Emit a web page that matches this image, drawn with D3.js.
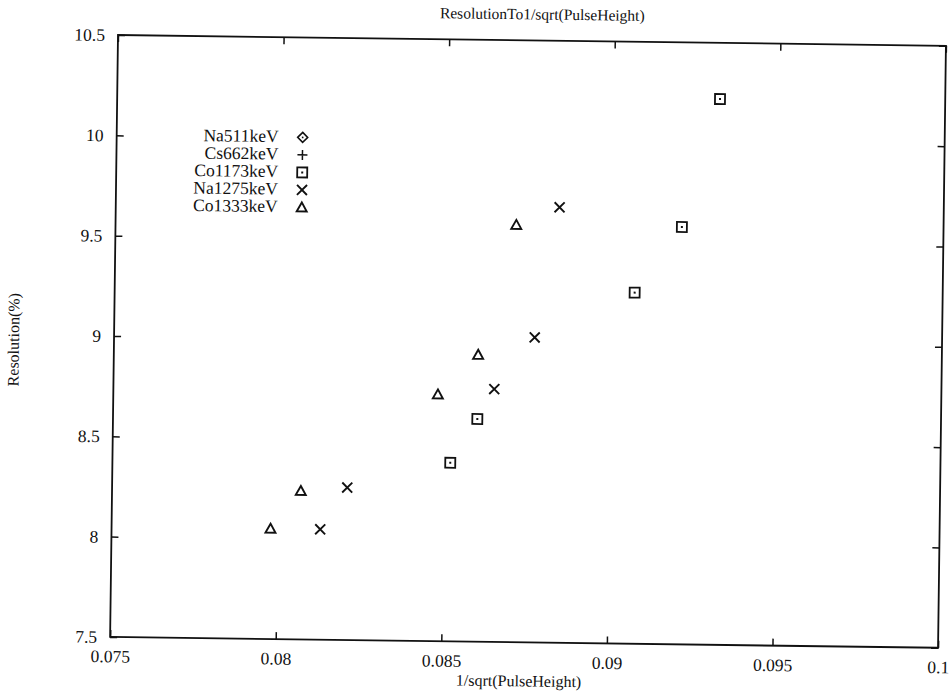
<!DOCTYPE html>
<html>
<head>
<meta charset="utf-8">
<script src="https://cdn.jsdelivr.net/npm/d3@7"></script>
<style>
  html, body { margin: 0; padding: 0; background: #fff; }
</style>
</head>
<body>
<svg id="chart" width="951" height="693"></svg>
<script>
// ---- data ----
const seriesNames = ["Na511keV", "Cs662keV", "Co1173keV", "Na1275keV", "Co1333keV"];
const na511X = [];
const na511Y = [];
const cs662X = [];
const cs662Y = [];
const co1173X = [0.0932, 0.0921, 0.0907, 0.0860, 0.0852];
const co1173Y = [10.22, 9.58, 9.25, 8.61, 8.39];
const na1275X = [0.0884, 0.0877, 0.0865, 0.0821, 0.0813];
const na1275Y = [9.67, 9.02, 8.76, 8.26, 8.05];
const co1333X = [0.0871, 0.0860, 0.0848, 0.0807, 0.0798];
const co1333Y = [9.58, 8.93, 8.73, 8.24, 8.05];
const xTicks = [0.075, 0.08, 0.085, 0.09, 0.095, 0.1];
const xTickLabels = ["0.075", "0.08", "0.085", "0.09", "0.095", "0.1"];
const yTicks = [7.5, 8, 8.5, 9, 9.5, 10, 10.5];
const yTickLabels = ["7.5", "8", "8.5", "9", "9.5", "10", "10.5"];
const titleText = "ResolutionTo1/sqrt(PulseHeight)";
const xLabel = "1/sqrt(PulseHeight)";
const yLabel = "Resolution(%)";

const seriesX = [na511X, cs662X, co1173X, na1275X, co1333X];
const seriesY = [na511Y, cs662Y, co1173Y, na1275Y, co1333Y];
const symbols = ["diamond", "plus", "square", "cross", "triangle"];

// ---- layout ----
const W = 828, H = 602;
const FONT = "'Liberation Serif', 'Times New Roman', Times, serif";
const svg = d3.select("#chart");
const g = svg.append("g").attr("transform", "translate(118,35) rotate(0.75)");

const x = d3.scaleLinear().domain([0.075, 0.1]).range([0, W]);
const y = d3.scaleLinear().domain([7.5, 10.5]).range([H, 0]);

const fs = 17.5;
const ink = "#111";

// frame
g.append("rect").attr("x", 0).attr("y", 0).attr("width", W).attr("height", H)
  .attr("fill", "none").attr("stroke", ink).attr("stroke-width", 1.8);

function styleAxis(sel) {
  sel.attr("font-family", null).attr("font-size", null);
  sel.select(".domain").remove();
  sel.selectAll("line").attr("stroke", ink).attr("stroke-width", 1.5);
  sel.selectAll("text").style("font-family", FONT).style("font-size", fs + "px").attr("fill", ink);
}

g.append("g").attr("transform", `translate(0,${H})`)
  .call(d3.axisBottom(x).tickValues(xTicks).tickSize(-7).tickPadding(13)
    .tickFormat((d, i) => xTickLabels[i]))
  .call(styleAxis);
g.append("g")
  .call(d3.axisLeft(y).tickValues(yTicks).tickSize(-7).tickPadding(13)
    .tickFormat((d, i) => yTickLabels[i]))
  .call(styleAxis);
g.append("g")
  .call(d3.axisTop(x).tickValues(xTicks).tickSize(-7).tickFormat(""))
  .call(styleAxis);
g.append("g").attr("transform", `translate(${W},0)`)
  .call(d3.axisRight(y).tickValues(yTicks).tickSize(-7).tickFormat(""))
  .call(styleAxis);

function txt(sel) { return sel.style("font-family", FONT).attr("fill", ink); }

// titles
g.append("text").attr("x", W / 2 + 10).attr("y", -21).attr("text-anchor", "middle")
  .call(txt).style("font-size", "15.5px").text(titleText);
g.append("text").attr("x", W / 2 - 5).attr("y", H + 44).attr("text-anchor", "middle")
  .call(txt).style("font-size", "16px").text(xLabel);
g.append("text").attr("transform", `translate(-95,${H / 2 + 5}) rotate(-90)`)
  .attr("text-anchor", "middle").call(txt).style("font-size", "16px").text(yLabel);

// symbol drawer
function drawSymbol(sel, type) {
  const s = 5;
  if (type === "square") {
    sel.append("rect").attr("x", -s).attr("y", -s).attr("width", 2 * s).attr("height", 2 * s)
      .attr("fill", "none").attr("stroke", ink).attr("stroke-width", 1.8);
    sel.append("rect").attr("x", -1).attr("y", -1).attr("width", 2).attr("height", 2).attr("fill", ink);
  } else if (type === "cross") {
    sel.append("path").attr("d", `M${-s},${-s}L${s},${s}M${-s},${s}L${s},${-s}`)
      .attr("stroke", ink).attr("stroke-width", 1.9).attr("fill", "none");
  } else if (type === "triangle") {
    sel.append("path").attr("d", `M0,${-s}L${s},${s - 1}L${-s},${s - 1}Z`)
      .attr("stroke", ink).attr("stroke-width", 1.9).attr("fill", "none");
  } else if (type === "diamond") {
    sel.append("path").attr("d", `M0,${-s}L${s},0L0,${s}L${-s},0Z`)
      .attr("stroke", ink).attr("stroke-width", 1.6).attr("fill", "none");
    sel.append("rect").attr("x", -0.8).attr("y", -0.8).attr("width", 1.6).attr("height", 1.6).attr("fill", ink);
  } else if (type === "plus") {
    sel.append("path").attr("d", `M${-s},0L${s},0M0,${-s}L0,${s}`)
      .attr("stroke", ink).attr("stroke-width", 1.5).attr("fill", "none");
  }
}

// points
seriesNames.forEach((name, k) => {
  const pts = seriesX[k].map((xv, i) => [xv, seriesY[k][i]]);
  const grp = g.append("g");
  pts.forEach(p => {
    const m = grp.append("g").attr("transform", `translate(${x(p[0])},${y(p[1])})`);
    drawSymbol(m, symbols[k]);
  });
});

// legend
const lg = g.append("g").attr("transform", "translate(162,105)");
seriesNames.forEach((name, k) => {
  lg.append("text").attr("x", 0).attr("y", k * 17.5).attr("text-anchor", "end")
    .call(txt).style("font-size", "17.5px").text(name);
  const m = lg.append("g").attr("transform", `translate(24,${k * 17.5 - 5})`);
  drawSymbol(m, symbols[k]);
});
</script>
</body>
</html>
